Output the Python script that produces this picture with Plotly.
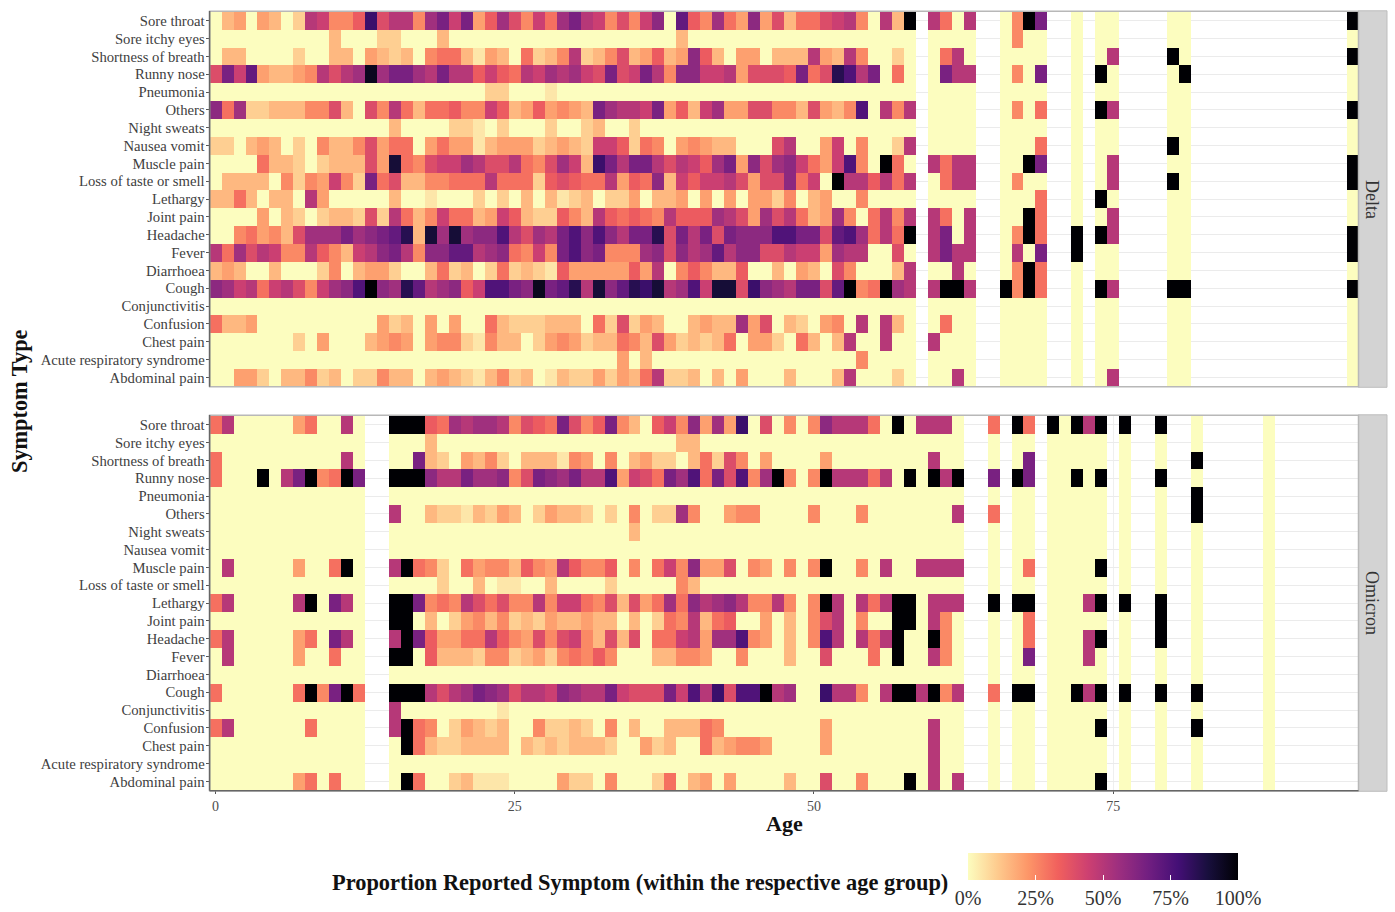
import plotly.graph_objects as go

W, H = 1395, 912
FONT = "Liberation Serif"

SYMPTOMS = ["Sore throat", "Sore itchy eyes", "Shortness of breath", "Runny nose", "Pneumonia", "Others",
            "Night sweats", "Nausea vomit", "Muscle pain", "Loss of taste or smell", "Lethargy", "Joint pain",
            "Headache", "Fever", "Diarrhoea", "Cough", "Conjunctivitis", "Confusion", "Chest pain",
            "Acute respiratory syndrome", "Abdominal pain"]
AGES = list(range(96))
AGE_TICKS = [0, 25, 50, 75]
LEGEND_TICKS = [0, 0.25, 0.5, 0.75, 1]
LEGEND_LABELS = ["0%", "25%", "50%", "75%", "100%"]

# one character per age (0-95): position in LEVELS x 5 %, "_" = no respondents in that age group
LEVELS = "0123456789ABCDEFGHIJK"

DELTA = [
    "03404302A9 557G8AA5BD 9D47B8596B DA95859C0E 75B64C4836 689A50A3K_ A60A__05KD __0_00____ 00________ _____K",
    "0000000000 3000220003 0000000000 0000000003 0000000000 000000000_ 0000__0500 __0_00____ 00________ _____0",
    "0330000200 3304323056 6314306235 A235834734 C730440333 A43A50020_ 06A0__0000 __0_0A____ K0________ _____K",
    "8D9E43345A 8ABJBDDBAD AA7976A9BA B98D89DA5C C99A48887D 68HFAD060_ 0DAA__050D __0_K0____ 0K________ _____0",
    "0000000000 0000000000 0002200010 0000000000 0000000000 000000000_ 0000__0000 __0_00____ 00________ _____0",
    "C6B2233355 83085A6366 7559734745 43DBAA9D47 39B4488553 8435F0A5A_ 0000__0506 __0_KA____ 00________ _____K",
    "0000000000 0000030000 2210200020 0230020000 0000000000 000000000_ 0000__0000 __0_00____ 00________ _____0",
    "2203430205 3358466046 4413444234 3299726504 54330008A0 04905002A_ 0000__0006 __0_00____ K0________ _____0",
    "0000633202 33384I6589 9BA88A658B 93GDADDA8A 97BD4C8BC9 649F50K60_ A6AA__00KD __0_0A____ 00________ _____K",
    "0333305254 952D683355 666A666278 766A476C39 799A8488C6 90KAA7A6A_ 06AA__0500 __0_0A____ K0________ _____K",
    "33630330A4 0000030010 0020203031 2302240334 0404044250 340050000_ 0000__0006 __0_K0____ 00________ _____0",
    "0000403202 33282A6359 6634973227 53A76765A7 77BA84B8A6 34B506A5A_ A60A__00K6 __0_0A____ 00________ _____0",
    "00564538BB BDBCDEH3IB IBCCFA8BAD FCFCADDH8D AD8DCCCFFD D8EFB6A6K_ AD0A__05K6 __K_KA____ 00________ _____K",
    "A6B8A955A7 539ACDA5CC EEABC6595D FCD555BC8C ABEACC88A9 94BAA0080_ ADAA__0A0D __K_00____ 00________ _____K",
    "3430030002 5034420036 2302623217 4444474A05 7533700304 30850003A_ 00A0__05K6 __0_00____ 00________ _____0",
    "CB9A69A859 BCFKCBHEAB C79FFDCJDE HAICEHGIAB F9II8GCBAD D8EK56KBA_ AKKA__K5K6 __0_KA____ KK________ _____K",
    "0000000000 0000000000 0000000000 0000000000 0000000000 000000000_ 0000__0000 __0_00____ 00________ _____0",
    "6334000000 0000423040 4006322233 3062824300 3433B48032 0450A0A30_ 0600__0000 __0_00____ 00________ _____0",
    "0000000204 0003454045 5215330245 4233653842 3236044206 303A00A00_ A000__0000 __0_00____ 00________ _____0",
    "0000000000 0000000000 0000000000 0000403000 0000000000 000050000_ 0000__0000 __0_00____ 00________ _____0",
    "0044203352 3022533034 3213523013 2242436A22 3030400030 003A00020_ 00A0__0000 __0_0A____ 00________ _____0",
]

OMICRON = [
    "6A00000460 0A0__KKK76 BABBA5876D 857D530795 C4B4G08050 5CAAA60K0A AA0__6_K6_ K0KAK_K__K __0_____0_ ______",
    "0000000000 000__00030 0000000000 0000000003 3000000000 0000000000 000__0_00_ 00000_0__0 __0_____0_ ______",
    "6000000000 0A0__00D32 0435203331 5405034220 3628504000 0400000000 A00__0_0D_ 00000_0__0 __K_____0_ ______",
    "6000K0ADK5 6KD__KKKCA ADBBC58DCB DAAF4986DB F6D8F5BK50 5KAAA6A0K0 KAK__D_KD_ 00K0K_0__K __0_____0_ ______",
    "0000000000 000__00000 0000000000 0000000000 0000000000 0000000000 000__0_00_ 00000_0__0 __K_____0_ ______",
    "0000000000 000__A0032 2132430243 320205022B 5004550000 5000500000 00A__6_00_ 00000_0__0 __K_____0_ ______",
    "0000000000 000__00000 0000000000 0000030000 0000000000 0000000000 000__0_00_ 00000_0__0 __0_____0_ ______",
    "0000000000 000__00000 0000000000 0000000000 0000000000 0000000000 000__0_00_ 00000_0__0 __0_____0_ ______",
    "0A00000400 6K0__AK652 064553754A 7557050695 C448054050 5K0050A00A AAA__0_06_ 0000K_0__0 __0_____0_ ______",
    "0000000000 000__00002 0030110030 0002000005 3000000000 0000000000 000__0_00_ 00000_0__0 __0_____0_ ______",
    "6A00000AK0 DA0__KKD56 5A86855A59 96583846B6 CABCA55A50 5KA0A6AKK0 AAA__K_KK_ 000AK_K__K __0_____0_ ______",
    "0000000000 000__KK030 2453523243 3433030265 A367004030 58A0500KK0 A50__0_06_ 00000_0__K __0_____0_ ______",
    "6A00000460 DA0__AKD74 466A754858 9538380669 A4BBF54030 5FA0A6AK00 K50__0_06_ 000AK_0__K __0_____0_ ______",
    "0A00000400 600__KK073 3325523425 6575000335 5400500030 0800060K00 A50__0_0D_ 000A0_0__0 __0_____0_ ______",
    "0000000000 000__00000 0000000000 0000000000 0000000000 0000000000 000__0_00_ 00000_0__0 __0_____0_ ______",
    "60000006K5 DK6__KKKA8 ABDCB8AA9C BAAD9888D9 FAG8FFKAB0 0GAA50AKKA K5A__6_KK_ 00KAK_K__K __K_____0_ ______",
    "0000000000 000__A0000 0000100000 0000000000 0000000000 0000000000 000__0_00_ 00000_0__0 __0_____0_ ______",
    "6A00000060 000__AK650 2432300522 3205030033 3650000000 0400000000 A00__0_00_ 0000K_0__0 __K_____0_ ______",
    "0000000000 000__0K632 2333303232 3332004230 0634554000 0400000000 A00__0_00_ 00000_0__0 __0_____0_ ______",
    "0000000000 000__00000 0000000000 0000000000 0000000000 0000000000 A00__0_00_ 00000_0__0 __0_____0_ ______",
    "0000000460 600__0K600 2311100004 2205000260 3404000030 08005000K0 A0A__0_00_ 0000K_0__0 __0_____0_ ______",
]


def decode(rows):
    out = []
    for row in rows:
        cells = row.replace(" ", "")
        assert len(cells) == 96, row
        out.append([None if c == "_" else LEVELS.index(c) / 20 for c in cells])
    return out


def fx(px):
    return px / W


def fy(py):
    return 1 - py / H


PANEL_L, PANEL_R = 209.6, 1358.5
STRIP_R = 1387
PANELS = [("Delta", DELTA, 11.8, 386.3, "x", "y"), ("Omicron", OMICRON, 415.8, 790.3, "x2", "y2")]

fig = go.Figure()
shapes, annotations = [], []
for name, rows, top, bot, xa, ya in PANELS:
    fig.add_trace(go.Heatmap(z=decode(rows), x=AGES, y=SYMPTOMS, xaxis=xa, yaxis=ya,
                             coloraxis="coloraxis", hoverongaps=False))
    shapes.append(dict(type="rect", xref="paper", yref="paper", x0=fx(PANEL_R), x1=fx(STRIP_R),
                       y0=fy(top - 1), y1=fy(bot + 1), fillcolor="#D3D3D3", line=dict(color="#BDBDBD", width=1)))
    shapes.append(dict(type="rect", xref="paper", yref="paper", x0=fx(PANEL_L), x1=fx(PANEL_R),
                       y0=fy(top - 0.5), y1=fy(bot + 0.5), line=dict(color="#B8B8B8", width=1.5)))
    annotations.append(dict(text=name, xref="paper", yref="paper", x=fx(1372), y=fy(199 if name == "Delta" else 603),
                            xanchor="center", yanchor="middle", showarrow=False, textangle=90,
                            font=dict(family=FONT, size=18, color="#333333")))

shapes.append(dict(type="line", xref="paper", yref="paper", x0=fx(PANEL_L), x1=fx(PANEL_L),
                   y0=fy(11), y1=fy(386.8), line=dict(color="#666666", width=1.5)))
shapes.append(dict(type="line", xref="paper", yref="paper", x0=fx(PANEL_L), x1=fx(PANEL_L),
                   y0=fy(415), y1=fy(790.8), line=dict(color="#666666", width=1.5)))
shapes.append(dict(type="line", xref="paper", yref="paper", x0=fx(PANEL_L), x1=fx(PANEL_R),
                   y0=fy(790.8), y1=fy(790.8), line=dict(color="#666666", width=1.5)))

annotations += [
    dict(text="<b>Age</b>", xref="paper", yref="paper", x=fx(784), y=fy(823), xanchor="center", yanchor="middle",
         showarrow=False, font=dict(family=FONT, size=22, color="#111111")),
    dict(text="<b>Symptom Type</b>", xref="paper", yref="paper", x=fx(19), y=fy(401), xanchor="center",
         yanchor="middle", showarrow=False, textangle=-90, font=dict(family=FONT, size=22.3, color="#111111")),
    dict(text="<b>Proportion Reported Symptom (within the respective age group)</b>", xref="paper", yref="paper",
         x=fx(950.5), y=fy(882), xanchor="right", yanchor="middle", showarrow=False,
         font=dict(family=FONT, size=22.4, color="#111111")),
]

layout_axes = {}
for suffix, (name, rows, top, bot, xa, ya) in zip(["", "2"], PANELS):
    bottom_panel = suffix == "2"
    layout_axes["xaxis" + suffix] = dict(
        domain=[fx(PANEL_L), fx(PANEL_R)], range=[-0.5, 95.5], anchor=ya, showline=False, zeroline=False,
        showgrid=True, gridcolor="#EFEFEF", gridwidth=1, tickvals=AGE_TICKS, showticklabels=bottom_panel,
        ticks="outside" if bottom_panel else "", ticklen=3, tickcolor="#555555",
        tickfont=dict(family=FONT, size=14, color="#4D4D4D"))
    layout_axes["yaxis" + suffix] = dict(
        domain=[fy(bot), fy(top)], type="category", categoryorder="array", categoryarray=SYMPTOMS,
        tickmode="array", tickvals=SYMPTOMS, ticktext=SYMPTOMS,
        range=[20.5, -0.5], anchor=xa, showline=False, zeroline=False, showgrid=True, gridcolor="#EBEBEB",
        gridwidth=1, ticks="outside", ticklen=3, tickcolor="#555555", automargin=False, ticklabelstandoff=-2,
        tickfont=dict(family=FONT, size=14.7, color="#404040"))

fig.update_layout(
    width=W, height=H, margin=dict(l=0, r=0, t=0, b=0, autoexpand=False), paper_bgcolor="white", plot_bgcolor="white",
    showlegend=False, shapes=shapes, annotations=annotations, font=dict(family=FONT),
    coloraxis=dict(
        cmin=0, cmax=1, colorscale="Magma_r",
        colorbar=dict(orientation="h", x=fx(968), xanchor="left", y=fy(853), yanchor="top", yref="paper",
                      len=270, lenmode="pixels", thickness=27, thicknessmode="pixels", xpad=0, ypad=0,
                      outlinewidth=0, tickvals=LEGEND_TICKS, ticktext=LEGEND_LABELS, ticks="inside", ticklen=5,
                      tickcolor="white", tickwidth=1,
                      tickfont=dict(family=FONT, size=20, color="#333333"))),
    **layout_axes)

fig.write_html("out.html", config={"displayModeBar": False},
               post_script="document.body.style.margin='0';document.body.style.overflow='hidden';")
